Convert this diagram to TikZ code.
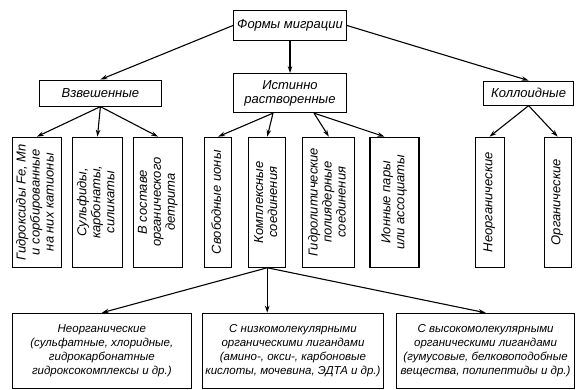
\documentclass[tikz,border=0pt]{standalone}
\usepackage{fontspec}
\setmainfont{Liberation Sans}
\usepackage{tikz}
\usetikzlibrary{positioning}
\usetikzlibrary{arrows.meta}
\newcommand{\vertlabel}[1]{\rotatebox{90}{\begin{tabular}{@{}c@{}}#1\end{tabular}}}

\begin{document}
\begin{tikzpicture}[node distance=10pt,line width=1.1pt,>={Stealth[length=7pt,width=4.5pt]},
  every node/.style={font=\itshape\fontsize{13}{14}\selectfont},
  box/.style={draw,align=center,inner sep=2pt},
  vbox/.style={draw,inner sep=1pt,minimum height=130pt},
  bottombox/.style={box,inner sep=1pt,minimum height=75pt,font=\itshape\fontsize{11.5}{14}\selectfont}]
  \useasboundingbox (0,0) rectangle (580pt,-389pt);
  \node[box,minimum width=113pt,minimum height=30pt](forms) at (290pt,-25.5pt) {Формы миграции};
  \node[below=32pt of forms,box,minimum width=113pt,minimum height=39pt](true) {Истинно\\растворенные};
  \node[left=71pt of true,box,minimum width=122pt,minimum height=26pt](susp) {Взвешенные};
  \node[right=136pt of true,box,minimum width=90pt,minimum height=24pt](coll) {Коллоидные};
  \node[below=30pt of susp.south west,xshift=-2pt,vbox,minimum width=49pt](hydrox) {\vertlabel{Гидроксиды Fe, Mn\\и сорбированные\\на них катионы}};
  \node[right=of hydrox,vbox,minimum width=50pt](sulf) {\vertlabel{Сульфиды,\\карбонаты,\\силикаты}};
  \node[right=of sulf,vbox,minimum width=49pt](detr) {\vertlabel{В составе\\органического\\детрита}};
  \node[right=21pt of detr,vbox,minimum width=27pt](free) {\vertlabel{Свободные ионы}};
  \node[right=16pt of free,vbox,minimum width=37pt](compl) {\vertlabel{Комплексные\\соединения}};
  \node[right=16pt of compl,vbox,minimum width=52pt](hydrol) {\vertlabel{Гидролитические\\полиядерные\\соединения}};
  \node[right=14pt of hydrol,vbox,minimum width=49pt](pairs) {\vertlabel{Ионные пары\\или ассоциаты}};
  \node[right=55pt of pairs,vbox,minimum width=29pt](inorg) {\vertlabel{Неорганические}};
  \node[right=39pt of inorg,vbox,minimum width=27pt](org) {\vertlabel{Органические}};
  \node[below=45pt of hydrox.south west,anchor=north west,bottombox,minimum width=179pt](binorg) {Неорганические\\(сульфатные, хлоридные,\\гидрокарбонатные\\гидроксокомплексы и др.)};
  \node[right=of binorg,bottombox,minimum width=181pt](blow) {С низкомолекулярными\\органическими лигандами\\(амино-, окси-, карбоновые\\кислоты, мочевина, ЭДТА и др.)};
  \node[right=12pt of blow,bottombox,minimum width=178pt](bhigh) {С высокомолекулярными\\органическими лигандами\\(гумусовые, белковоподобные\\вещества, полипептиды и др.)};
  \draw[->] (forms.west)--(susp.north);
  \draw[->] (forms)--(true);
  \draw[->] (forms.east)--(coll.north);
  \draw[->] (susp.south)--(hydrox.north);
  \draw[->] (susp.south)--(sulf.north);
  \draw[->] (susp.south)--(detr.north);
  \draw[->] ([xshift=-17pt]true.south)--(free.north);
  \draw[->] ([xshift=-17pt]true.south)--(compl.north);
  \draw[->] ([xshift=24pt]true.south)--(hydrol.north);
  \draw[->] ([xshift=24pt]true.south)--([xshift=-10pt]pairs.north);
  \draw[->] (coll.south)--(inorg.north);
  \draw[->] (coll.south)--(org.north);
  \draw[->] (compl.south)--(binorg.north);
  \draw[->] (compl.south)--(compl.south |- blow.north);
  \draw[->] (compl.south)--(bhigh.north);
\end{tikzpicture}
\end{document}
